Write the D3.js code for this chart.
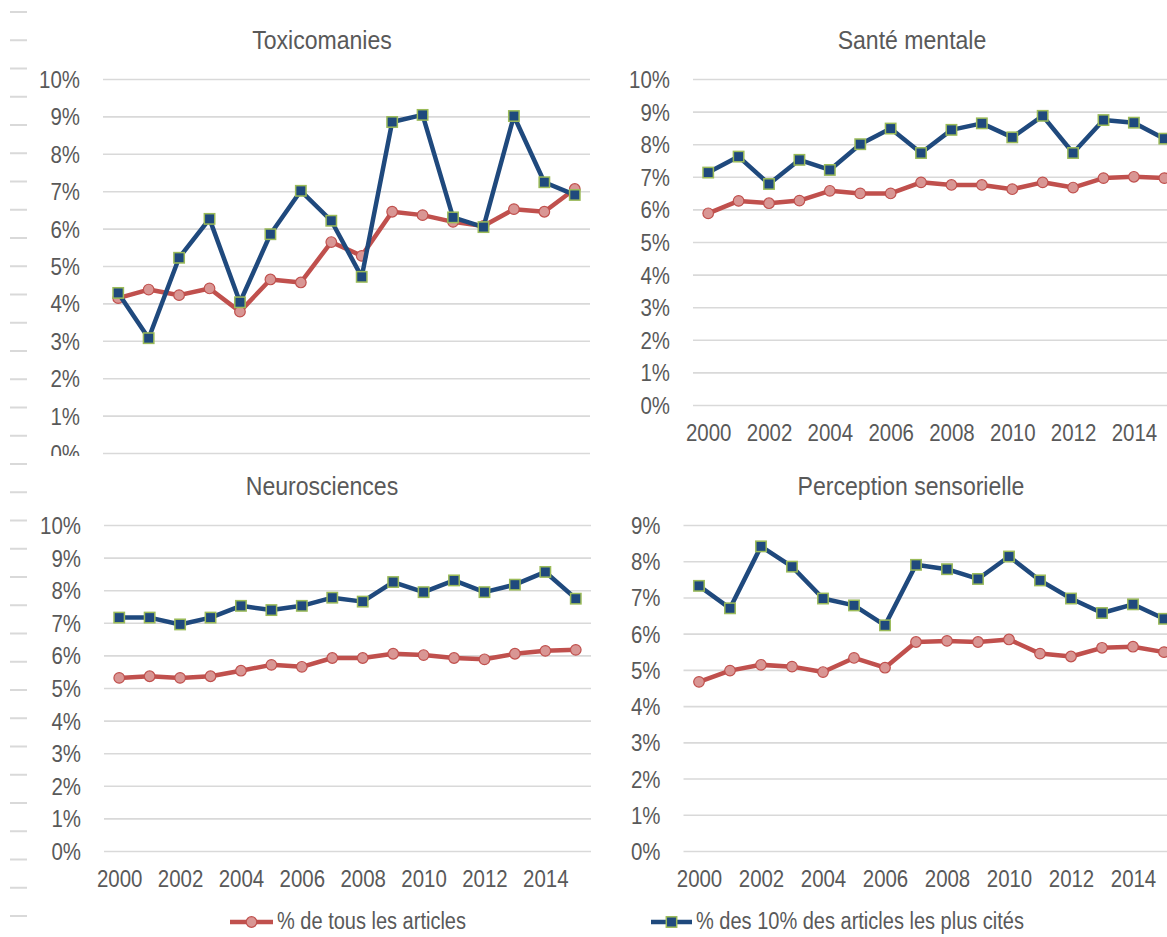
<!DOCTYPE html>
<html>
<head>
<meta charset="utf-8">
<script src="https://cdn.jsdelivr.net/npm/d3@7"></script>
<style>
  body { margin: 0; background: #fff; }
  svg text { font-family: "Liberation Sans", Arial, sans-serif; fill: #595959; }
</style>
</head>
<body>
<div id="chart"></div>
<script>
// years on the x axis, labels only on even years
const years = [2000, 2001, 2002, 2003, 2004, 2005, 2006, 2007, 2008, 2009, 2010, 2011, 2012, 2013, 2014, 2015];
const yearTicks = [2000, 2002, 2004, 2006, 2008, 2010, 2012, 2014];
const pctTicks10 = [0, 1, 2, 3, 4, 5, 6, 7, 8, 9, 10];
const pctTicks9 = [0, 1, 2, 3, 4, 5, 6, 7, 8, 9];

// % de tous les articles / % des 10% des articles les plus cités
const toxAll = [4.14, 4.37, 4.22, 4.40, 3.78, 4.64, 4.56, 5.64, 5.27, 6.45, 6.36, 6.18, 6.07, 6.52, 6.45, 7.06];
const toxTop = [4.28, 3.07, 5.22, 6.26, 4.03, 5.85, 7.01, 6.21, 4.71, 8.85, 9.04, 6.30, 6.04, 9.01, 7.24, 6.90];
const santeAll = [5.88, 6.26, 6.19, 6.27, 6.57, 6.49, 6.49, 6.83, 6.75, 6.75, 6.62, 6.83, 6.67, 6.96, 7.00, 6.96];
const santeTop = [7.13, 7.62, 6.78, 7.52, 7.21, 8.00, 8.48, 7.73, 8.44, 8.64, 8.21, 8.87, 7.73, 8.74, 8.66, 8.17];
const neuroAll = [5.31, 5.36, 5.31, 5.36, 5.53, 5.71, 5.65, 5.92, 5.92, 6.05, 6.01, 5.92, 5.88, 6.05, 6.14, 6.17];
const neuroTop = [7.16, 7.16, 6.95, 7.16, 7.52, 7.39, 7.52, 7.77, 7.65, 8.25, 7.94, 8.30, 7.94, 8.17, 8.56, 7.74];
const percAll = [4.67, 4.98, 5.14, 5.09, 4.94, 5.33, 5.06, 5.77, 5.80, 5.77, 5.84, 5.45, 5.37, 5.61, 5.64, 5.49];
const percTop = [7.32, 6.70, 8.41, 7.85, 6.97, 6.78, 6.23, 7.90, 7.78, 7.51, 8.13, 7.47, 6.97, 6.57, 6.81, 6.41];

const legendLabels = ['% de tous les articles', '% des 10% des articles les plus cités'];

const width = 1167, height = 937;
const RED = '#c0504d', RED_FILL = '#d99694', BLUE = '#1f497d', GREEN = '#9bbb59';
const SQ = 0.87; // text in the picture is a bit narrower than Arial

const svg = d3.select('#chart').append('svg')
  .attr('width', width).attr('height', height);

// narrow the text horizontally around its own x
function squeeze(sel) {
  sel.each(function() {
    const t = d3.select(this);
    const x = +t.attr('x') || 0;
    t.attr('transform', `translate(${x},0) scale(${SQ},1) translate(${-x},0)`);
  });
}

// faint dashes down the left edge
const dashY = d3.scaleLinear().domain([0, 32]).range([12, 916]);
svg.append('g').selectAll('line').data(d3.range(33)).join('line')
  .attr('x1', 10).attr('x2', 27)
  .attr('y1', d => dashY(d)).attr('y2', d => dashY(d))
  .attr('stroke', '#d9d9d9').attr('stroke-width', 2);

const panels = [
  { title: 'Toxicomanies', all: toxAll, top: toxTop, ticks: pctTicks10, max: 10,
    x0: 103, x1: 590, yTop: 79, yBot: 453, tx: 322, ty: 49, xAxis: false, clip: 456 },
  { title: 'Santé mentale', all: santeAll, top: santeTop, ticks: pctTicks10, max: 10,
    x0: 693, x1: 1179.5, yTop: 79, yBot: 405, tx: 912, ty: 49, xAxis: true },
  { title: 'Neurosciences', all: neuroAll, top: neuroTop, ticks: pctTicks10, max: 10,
    x0: 104, x1: 591, yTop: 525, yBot: 851, tx: 322, ty: 495, xAxis: true },
  { title: 'Perception sensorielle', all: percAll, top: percTop, ticks: pctTicks9, max: 9,
    x0: 683.5, x1: 1179.5, yTop: 525, yBot: 851, tx: 911, ty: 495, xAxis: true }
];

panels.forEach((p, i) => {
  let g = svg.append('g');
  if (p.clip) {
    svg.append('clipPath').attr('id', 'clip' + i)
      .append('rect').attr('x', 0).attr('y', 0).attr('width', width).attr('height', p.clip);
    g.attr('clip-path', `url(#clip${i})`);
  }

  const x = d3.scalePoint().domain(years).range([p.x0, p.x1]).padding(0.5);
  const y = d3.scaleLinear().domain([0, p.max]).range([p.yBot, p.yTop]);

  // title
  g.append('text')
    .attr('x', p.tx).attr('y', p.ty)
    .attr('text-anchor', 'middle')
    .style('font-size', '26.5px')
    .text(p.title)
    .call(squeeze);

  // y axis with gridlines
  const ya = g.append('g')
    .attr('transform', `translate(${p.x0},0)`)
    .call(d3.axisLeft(y).tickValues(p.ticks).tickFormat(d => d + '%')
      .tickSizeInner(-(p.x1 - p.x0)).tickSizeOuter(0).tickPadding(23));
  ya.select('.domain').remove();
  ya.selectAll('.tick line').attr('stroke', '#d9d9d9').attr('stroke-width', 1.6);
  ya.selectAll('.tick text')
    .attr('fill', '#595959')
    .style('font-size', '23.5px')
    .style('font-family', '"Liberation Sans", Arial, sans-serif')
    .attr('dy', '0.36em')
    .call(squeeze);

  if (p.xAxis) {
    const xa = g.append('g')
      .attr('transform', `translate(0,${p.yBot})`)
      .call(d3.axisBottom(x).tickValues(yearTicks).tickSize(0).tickPadding(19));
    xa.select('.domain').remove();
    xa.selectAll('.tick text')
      .attr('fill', '#595959')
      .style('font-size', '23.5px')
      .style('font-family', '"Liberation Sans", Arial, sans-serif')
      .call(squeeze);
  }

  const line = d3.line().x((d, j) => x(years[j])).y(d => y(d));

  // series 1: all articles
  g.append('path').datum(p.all)
    .attr('d', line)
    .attr('fill', 'none').attr('stroke', RED).attr('stroke-width', 4.5)
    .attr('stroke-linejoin', 'round');
  g.append('g').selectAll('circle').data(p.all).join('circle')
    .attr('cx', (d, j) => x(years[j])).attr('cy', d => y(d))
    .attr('r', 5.3)
    .attr('fill', RED_FILL).attr('stroke', RED).attr('stroke-width', 1.2);

  // series 2: top 10% most cited
  g.append('path').datum(p.top)
    .attr('d', line)
    .attr('fill', 'none').attr('stroke', BLUE).attr('stroke-width', 4.5)
    .attr('stroke-linejoin', 'round');
  g.append('g').selectAll('rect').data(p.top).join('rect')
    .attr('x', (d, j) => x(years[j]) - 5.2).attr('y', d => y(d) - 5.2)
    .attr('width', 10.4).attr('height', 10.4)
    .attr('fill', BLUE).attr('stroke', GREEN).attr('stroke-width', 1.5);
});

// legend
const legend = [
  { label: legendLabels[0], x0: 230, x1: 273, tx: 277, color: RED, marker: 'circle' },
  { label: legendLabels[1], x0: 651, x1: 692, tx: 696, color: BLUE, marker: 'square' }
];
const lg = svg.append('g');
legend.forEach(l => {
  const cy = 922, cx = (l.x0 + l.x1) / 2;
  lg.append('line')
    .attr('x1', l.x0).attr('x2', l.x1).attr('y1', cy).attr('y2', cy)
    .attr('stroke', l.color).attr('stroke-width', 4.5);
  if (l.marker === 'circle') {
    lg.append('circle').attr('cx', cx).attr('cy', cy).attr('r', 5.3)
      .attr('fill', RED_FILL).attr('stroke', RED).attr('stroke-width', 1.2);
  } else {
    lg.append('rect').attr('x', cx - 5.2).attr('y', cy - 5.2).attr('width', 10.4).attr('height', 10.4)
      .attr('fill', BLUE).attr('stroke', GREEN).attr('stroke-width', 1.5);
  }
  lg.append('text')
    .attr('x', l.tx).attr('y', 929.5)
    .style('font-size', '23px')
    .text(l.label)
    .call(squeeze);
});
</script>
</body>
</html>
